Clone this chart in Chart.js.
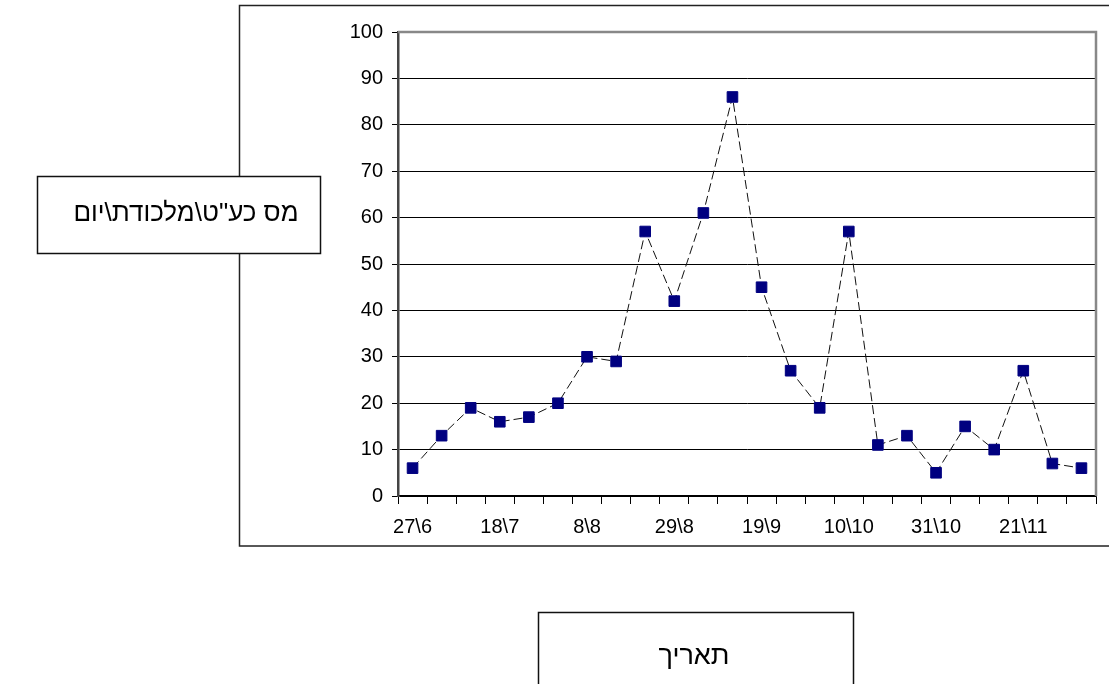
<!DOCTYPE html>
<html>
<head>
<meta charset="utf-8">
<script src="https://cdn.jsdelivr.net/npm/chart.js@4"></script>
<style>
  html, body { margin: 0; padding: 0; background: #fff; }
  #wrap { width: 1109px; height: 684px; }
</style>
</head>
<body>
<div id="wrap"><canvas id="chart" width="1109" height="684"></canvas></div>
<script>
// weekly sampling dates (day\month)
const dates = ['27\\6', '4\\7', '11\\7', '18\\7', '25\\7', '1\\8', '8\\8', '15\\8',
    '22\\8', '29\\8', '5\\9', '12\\9', '19\\9', '26\\9', '3\\10', '10\\10',
    '17\\10', '24\\10', '31\\10', '7\\11', '14\\11', '21\\11', '28\\11', '5\\12'];

// insects per trap per day
const counts = [6, 13, 19, 16, 17, 20, 30, 29, 57, 42, 61, 86,
    45, 27, 19, 57, 11, 13, 5, 15, 10, 27, 7, 6];

const yTicks = [0, 10, 20, 30, 40, 50, 60, 70, 80, 90, 100];

const yTitle = 'מס כע"ט\\מלכודת\\יום';
const xTitle = 'תאריך';

const tickFont = { family: '"Liberation Sans", Arial, sans-serif', size: 20 };
const titleFamily = '"Liberation Sans", Arial, sans-serif';

// frame + title boxes, drawn around the plot like the spreadsheet original
const framePlugin = {
    id: 'frames',
    beforeDraw(chart) {
        const ctx = chart.ctx;
        ctx.save();
        ctx.fillStyle = '#fff';
        ctx.fillRect(0, 0, chart.width, chart.height);
        ctx.strokeStyle = '#222';
        ctx.lineWidth = 1.5;
        ctx.strokeRect(239.5, 5.5, 1000, 540.5);
        ctx.restore();
    },
    afterDraw(chart) {
        const ctx = chart.ctx;
        const a = chart.chartArea;
        ctx.save();
        // gray top/right border of plot area
        ctx.strokeStyle = '#888';
        ctx.lineWidth = 2.5;
        ctx.beginPath();
        ctx.moveTo(a.left, a.top);
        ctx.lineTo(a.right, a.top);
        ctx.lineTo(a.right, a.bottom);
        ctx.stroke();

        const box = (x, y, w, h, text, size, dx) => {
            ctx.fillStyle = '#fff';
            ctx.fillRect(x, y, w, h);
            ctx.strokeStyle = '#111';
            ctx.lineWidth = 1.5;
            ctx.strokeRect(x, y, w, h);
            ctx.fillStyle = '#000';
            ctx.font = size + 'px ' + titleFamily;
            ctx.direction = 'rtl';
            ctx.textAlign = 'center';
            ctx.textBaseline = 'middle';
            ctx.fillText(text, x + w / 2 + dx, y + h / 2 - 1);
        };
        box(37.5, 176.5, 283, 77, yTitle, 26, 7);
        box(538.5, 612.5, 315, 90, xTitle, 27, -2);
        ctx.restore();
    }
};

new Chart(document.getElementById('chart'), {
    type: 'line',
    data: {
        labels: dates,
        datasets: [{
            data: counts,
            borderColor: '#111',
            borderWidth: 1,
            borderDash: [9, 4],
            tension: 0,
            pointStyle: 'rect',
            pointRadius: 7.5,
            pointBackgroundColor: '#000080',
            pointBorderColor: '#000080',
            pointBorderWidth: 1
        }]
    },
    options: {
        responsive: false,
        animation: false,
        layout: { padding: { left: 338, top: 32, right: 13, bottom: 128 } },
        plugins: { legend: { display: false }, tooltip: { enabled: false } },
        scales: {
            x: {
                offset: true,
                afterFit: (s) => { s.height = 60; },
                grid: {
                    offset: true,
                    drawOnChartArea: false,
                    drawTicks: true,
                    tickLength: 8,
                    color: '#000'
                },
                border: { display: true, color: '#000', width: 1.5 },
                ticks: {
                    autoSkip: false,
                    maxRotation: 0,
                    padding: 11,
                    color: '#000',
                    font: tickFont,
                    callback: (v, i) => (i % 3 === 0 ? dates[i] : '')
                }
            },
            y: {
                min: 0,
                max: 100,
                afterFit: (s) => { s.width = 60; },
                afterBuildTicks: (s) => { s.ticks = yTicks.map(v => ({ value: v })); },
                grid: {
                    color: '#000',
                    lineWidth: 1,
                    drawTicks: true,
                    tickLength: 6
                },
                border: { display: true, color: '#444', width: 2.5 },
                ticks: {
                    padding: 9,
                    color: '#000',
                    font: tickFont
                }
            }
        }
    },
    plugins: [framePlugin]
});
</script>
</body>
</html>
